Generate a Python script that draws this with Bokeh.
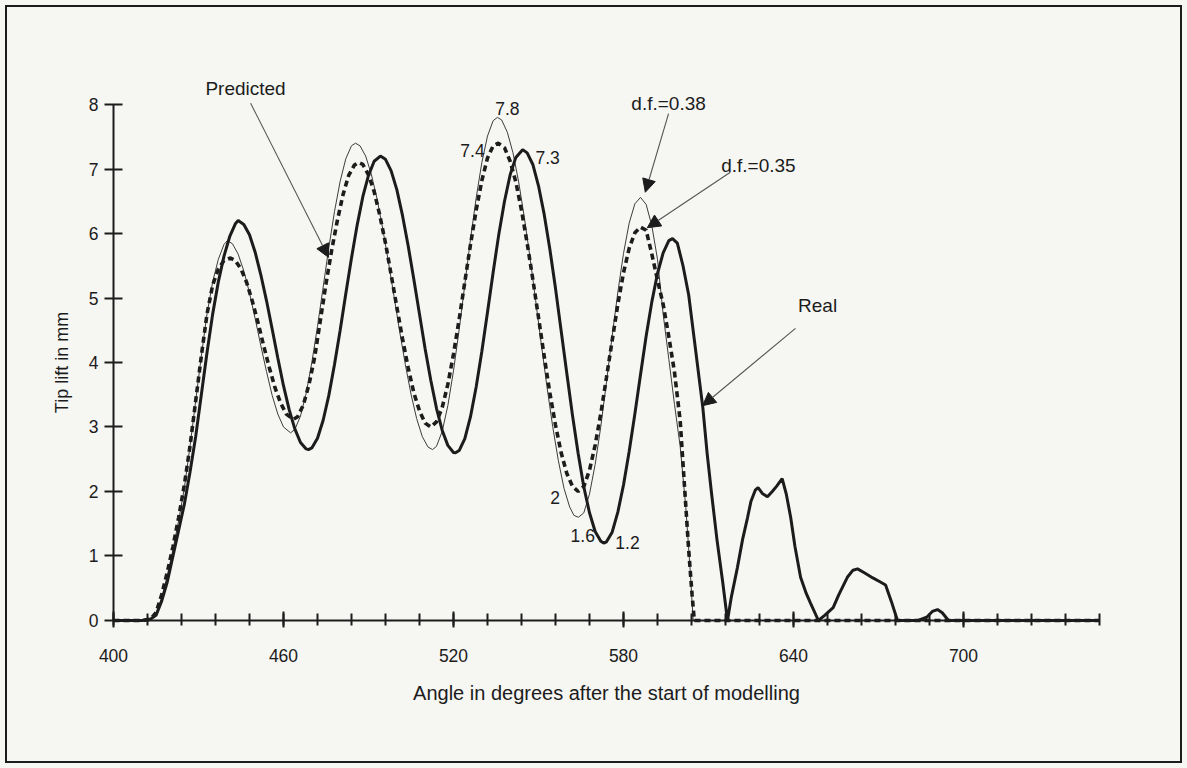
from bokeh.plotting import figure
from bokeh.models import Range1d, FixedTicker, Arrow, NormalHead, Label
from bokeh.embed import file_html
from bokeh.resources import INLINE

# ---- data -------------------------------------------------------------
# measured tip lift (mm) against crank angle (degrees)
real_angle = [400, 405, 410, 413, 415, 417, 419, 421, 423, 425, 427, 429, 431, 433, 435, 437, 439, 441, 443, 444,
              446, 448, 450, 452, 454, 456, 458, 460, 462, 464, 466, 468, 468.8,
              470, 472, 474, 476, 478, 480, 482, 484, 486, 488, 490, 492, 494.2,
              496, 498, 500, 502, 504, 506, 508, 510, 512, 514, 516, 518, 520, 520.7,
              522, 524, 526, 528, 530, 532, 534, 536, 538, 540, 542, 544.4,
              546, 548, 550, 552, 554, 556, 558, 560, 562, 564, 566, 568, 570, 572, 573,
              574, 576, 578, 580, 582, 584, 586, 588, 590, 592, 594, 596, 597.3,
              599, 601, 603, 605, 607, 608, 609.5, 611, 613, 615, 616.7,
              618, 620.2, 622, 623.8, 625, 626.5, 627.5, 629, 630.8, 632.5, 634, 636, 637.5, 639, 640.5,
              642.5, 644.5, 646, 648.8,
              651, 654, 656, 659, 661, 662.6, 665, 668, 670.5, 672.5, 674.5, 676.7,
              684, 687, 689, 690.8, 692.5, 694.7, 748]
real_lift = [0, 0, 0, 0.02, 0.08, 0.3, 0.6, 1.0, 1.4, 1.8, 2.3, 2.85, 3.5, 4.15, 4.75, 5.25, 5.65, 5.95, 6.15, 6.2,
             6.14, 5.98, 5.71, 5.36, 4.96, 4.52, 4.07, 3.64, 3.27, 2.97, 2.76, 2.66, 2.65,
             2.675, 2.825, 3.105, 3.49, 3.97, 4.5, 5.07, 5.62, 6.13, 6.57, 6.9, 7.12, 7.2,
             7.15, 6.97, 6.68, 6.28, 5.81, 5.29, 4.75, 4.21, 3.72, 3.29, 2.95, 2.715, 2.605, 2.6,
             2.635, 2.82, 3.16, 3.62, 4.17, 4.78, 5.4, 5.99, 6.5, 6.91, 7.18, 7.3,
             7.25, 7.07, 6.74, 6.3, 5.76, 5.15, 4.49, 3.83, 3.18, 2.59, 2.07, 1.67, 1.38, 1.23, 1.2,
             1.22, 1.37, 1.68, 2.1, 2.62, 3.2, 3.81, 4.41, 4.94, 5.38, 5.7, 5.89, 5.92,
             5.85, 5.5, 5.05, 4.35, 3.65, 3.3, 2.6, 2.0, 1.25, 0.6, 0,
             0.35, 0.82, 1.25, 1.6, 1.85, 2.02, 2.06, 1.97, 1.92, 2.0, 2.08, 2.2, 1.95, 1.6, 1.15,
             0.67, 0.42, 0.27, 0,
             0.08, 0.2, 0.4, 0.67, 0.78, 0.8, 0.74, 0.66, 0.6, 0.55, 0.3, 0,
             0, 0.05, 0.14, 0.17, 0.12, 0, 0]

# predicted lift, damping factor 0.38
df038_angle = [400, 410, 413, 415, 417, 419, 421, 423, 425, 427, 429, 431, 433, 435, 437, 439, 440.2,
               442, 444, 446, 448, 450, 452, 454, 456, 458, 460, 462.5,
               464, 466, 468, 470, 472, 474, 476, 478, 480, 482, 484, 485.4,
               487, 489, 491, 493, 495, 497, 499, 501, 503, 505, 507, 509, 511, 512.6,
               514, 516, 518, 520, 522, 524, 526, 528, 530, 532, 534, 535.5,
               537, 539, 541, 543, 545, 547, 549, 551, 553, 555, 557, 559, 561, 562.5, 564.1,
               566, 568, 570, 572, 574, 576, 578, 580, 582, 584, 586,
               588, 590, 592, 594, 596, 598, 600, 602, 603.5, 604.6, 748]
df038_lift = [0, 0, 0.02, 0.1, 0.35, 0.7, 1.1, 1.55, 2.05, 2.7, 3.4, 4.1, 4.75, 5.25, 5.6, 5.83, 5.89,
              5.84, 5.68, 5.42, 5.08, 4.68, 4.26, 3.86, 3.49, 3.2, 3.0, 2.91,
              2.96, 3.17, 3.52, 4.0, 4.56, 5.17, 5.78, 6.34, 6.81, 7.16, 7.36, 7.4,
              7.36, 7.2, 6.92, 6.54, 6.08, 5.57, 5.03, 4.48, 3.97, 3.51, 3.13, 2.85, 2.69, 2.65,
              2.7, 2.93, 3.33, 3.87, 4.51, 5.21, 5.91, 6.55, 7.1, 7.51, 7.75, 7.8,
              7.76, 7.57, 7.25, 6.8, 6.25, 5.63, 4.96, 4.28, 3.62, 3.01, 2.48, 2.05, 1.76, 1.63, 1.6,
              1.67, 1.96, 2.42, 3.01, 3.7, 4.41, 5.09, 5.69, 6.16, 6.46, 6.56,
              6.45, 6.12, 5.6, 4.75, 4.05, 3.35, 2.7, 1.75, 0.8, 0, 0]

# predicted lift, damping factor 0.35
df035_angle = [400, 410, 413, 415, 417, 419, 421, 423, 425, 427, 429, 431, 433, 435, 437, 439, 441.3,
               443, 445, 447, 449, 451, 453, 455, 457, 459, 461, 463.5,
               465, 467, 469, 471, 473, 475, 477, 479, 481, 483, 485, 486.5,
               488, 490, 492, 494, 496, 498, 500, 502, 504, 506, 508, 510, 512,
               514, 516, 518, 520, 522, 524, 526, 528, 530, 532, 534, 535.8,
               538, 540, 542, 544, 546, 548, 550, 552, 554, 556, 558, 560, 562, 564,
               566, 568, 570, 572, 574, 576, 578, 580, 582, 584, 586,
               588, 590, 592, 594, 596, 598, 600, 601.5, 603, 604.2, 605, 748]
df035_lift = [0, 0, 0.02, 0.12, 0.4, 0.75, 1.15, 1.6, 2.1, 2.7, 3.4, 4.1, 4.75, 5.2, 5.45, 5.58, 5.62,
              5.58, 5.45, 5.24, 4.95, 4.62, 4.26, 3.92, 3.61, 3.37, 3.2, 3.12,
              3.16, 3.34, 3.66, 4.08, 4.65, 5.22, 5.74, 6.2, 6.6, 6.9, 7.06, 7.1,
              7.07, 6.91, 6.65, 6.28, 5.85, 5.36, 4.86, 4.37, 3.92, 3.53, 3.25, 3.06, 3.0,
              3.08, 3.3, 3.66, 4.13, 4.67, 5.25, 5.83, 6.36, 6.82, 7.17, 7.36, 7.4,
              7.33, 7.12, 6.8, 6.36, 5.85, 5.29, 4.7, 4.1, 3.53, 3.03, 2.6, 2.28, 2.08, 2.0,
              2.08, 2.33, 2.72, 3.21, 3.77, 4.34, 4.9, 5.39, 5.77, 6.01, 6.1,
              6.05, 5.68, 5.28, 4.9, 4.4, 3.85, 3.1, 2.1, 1.1, 0.4, 0, 0]

x_tick_labels = [400, 460, 520, 580, 640, 700]
x_minor_ticks = list(range(400, 749, 12))
y_ticks = [0, 1, 2, 3, 4, 5, 6, 7, 8]

# values written next to selected peaks and troughs
value_angle = [535.5, 535.8, 544.4, 564.0, 564.1, 573.0]
value_lift = [7.8, 7.4, 7.3, 2.0, 1.6, 1.2]
value_text = ["7.8", "7.4", "7.3", "2", "1.6", "1.2"]
# where each value is written, relative to its point (degrees, mm)
value_dx = [3.5, -9.1, 8.8, -8.1, 1.5, 8.4]
value_dy = [0.14, -0.12, -0.12, -0.09, -0.28, 0.01]

# ---- styling ----------------------------------------------------------
FONT = "Liberation Sans"
INK = "#1c1c1c"
PAPER = "#f6f6f3"

# the plot area spans nearly the whole page; the axes sit at angle 400 / lift 0
p = figure(width=1187, height=768, output_backend="svg", toolbar_location=None,
           x_range=Range1d(370.71, 775.88), y_range=Range1d(-1.4574, 9.4574),
           min_border_left=30, min_border_right=9, min_border_top=10,
           min_border_bottom=54)
p.background_fill_color = None
p.border_fill_color = None
p.outline_line_color = None
p.grid.visible = False
# paper colour and the rule drawn round the whole figure
p.styles = {"background-color": PAPER,
            "outline": f"2px solid {INK}",
            "outline-offset": "-7px"}

xa = p.xaxis[0]
xa.fixed_location = 0
xa.ticker = FixedTicker(ticks=x_tick_labels, minor_ticks=x_minor_ticks)
xa.bounds = (400, 748)
xa.axis_label = "Angle in degrees after the start of modelling"
xa.major_tick_in = 9
xa.major_tick_out = 7
xa.minor_tick_in = 7
xa.minor_tick_out = 5
xa.major_label_standoff = 22
xa.axis_label_standoff = 16

ya = p.yaxis[0]
ya.fixed_location = 400
ya.ticker = FixedTicker(ticks=y_ticks, minor_ticks=[])
ya.bounds = (0, 8)
ya.axis_label = "Tip lift in mm"
ya.major_tick_in = 9
ya.major_tick_out = 9
ya.major_label_standoff = 6
ya.axis_label_standoff = 14

for ax in (xa, ya):
    ax.axis_line_color = INK
    ax.axis_line_width = 2
    ax.major_tick_line_color = INK
    ax.major_tick_line_width = 2
    ax.minor_tick_line_color = INK
    ax.minor_tick_line_width = 2
    ax.major_label_text_font = FONT
    ax.major_label_text_font_size = "17.5px"
    ax.major_label_text_color = INK
    ax.axis_label_text_font = FONT
    ax.axis_label_text_font_style = "normal"
    ax.axis_label_text_color = INK
xa.axis_label_text_font_size = "20px"
ya.axis_label_text_font_size = "18px"

# ---- curves -----------------------------------------------------------
p.line(df038_angle, df038_lift, line_color="#3c3c3c", line_width=1)
p.line(df035_angle, df035_lift, line_color=INK, line_width=3.6, line_dash="6 4")
p.line(real_angle, real_lift, line_color=INK, line_width=3)

# peak / trough values
for a, v, t, dx, dy in zip(value_angle, value_lift, value_text, value_dx, value_dy):
    p.add_layout(Label(x=a + dx, y=v + dy, text=t, text_font=FONT,
                       text_font_size="17.5px", text_color=INK,
                       text_align="center", text_baseline="middle"))

# ---- callouts ---------------------------------------------------------
callouts = [
    ("Predicted", 446.6, 8.25, 448.4, 8.02, 475.9, 5.63),
    ("d.f.=0.38", 595.9, 8.02, 595.9, 7.86, 587.7, 6.64),
    ("d.f.=0.35", 627.6, 7.05, 617.7, 6.95, 588.4, 6.09),
    ("Real", 648.5, 4.88, 640.7, 4.53, 607.9, 3.33),
]
for text, lx, ly, x0, y0, x1, y1 in callouts:
    p.add_layout(Label(x=lx, y=ly, text=text, text_font=FONT, text_font_size="19px",
                       text_color=INK, text_align="center", text_baseline="middle"))
    p.add_layout(Arrow(x_start=x0, y_start=y0, x_end=x1, y_end=y1,
                       line_color="#555555", line_width=1.1,
                       end=NormalHead(size=13, fill_color=INK, line_color=INK,
                                      line_width=1)))

open("out.html", "w").write(file_html(p, INLINE))
